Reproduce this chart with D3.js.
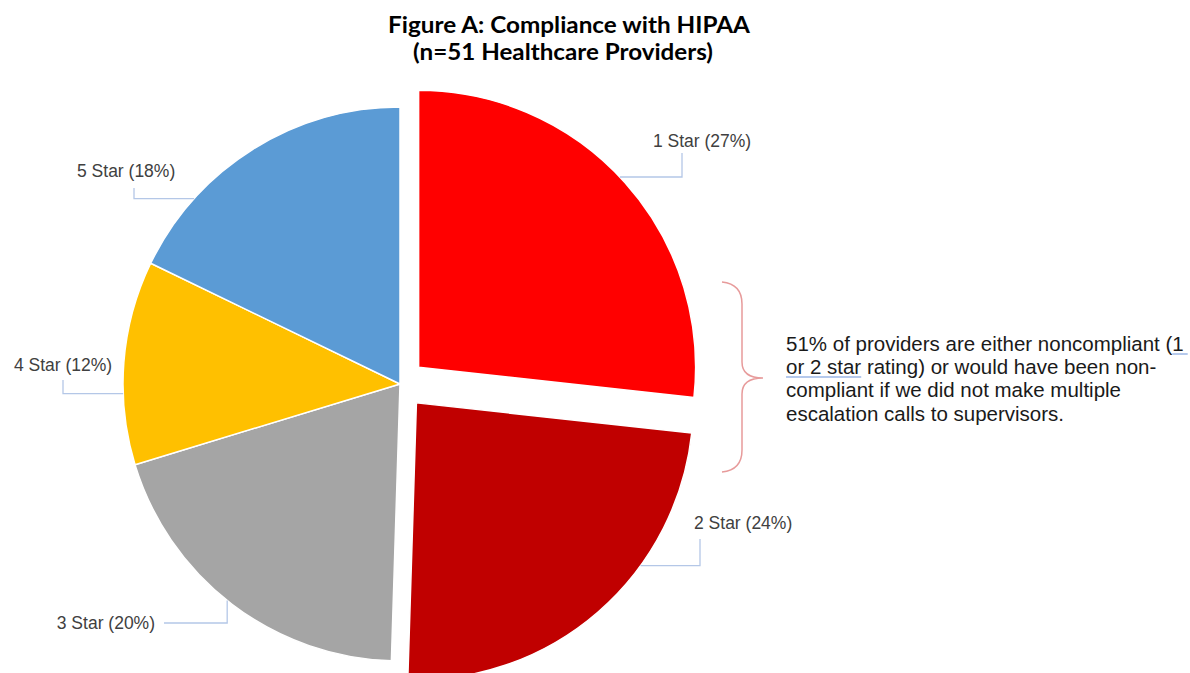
<!DOCTYPE html>
<html>
<head>
<meta charset="utf-8">
<script src="https://cdn.jsdelivr.net/npm/d3@7"></script>
<style>
  body { margin: 0; background: #fff; }
  svg { display: block; }
</style>
</head>
<body>
<div id="chart"></div>
<script>
// data (slices drawn from the rounded percentages)
const categories = ["1 Star", "2 Star", "3 Star", "4 Star", "5 Star"];
const percents = [27, 24, 20, 12, 18];
const colors = ["#ff0000", "#c00000", "#a5a5a5", "#ffc000", "#5b9bd5"];
const exploded = [true, true, false, false, false];
const titleLines = ["Figure A: Compliance with HIPAA", "(n=51 Healthcare Providers)"];
const noteLines = [
  "51% of providers are either noncompliant (1",
  "or 2 star rating) or would have been non-",
  "compliant if we did not make multiple",
  "escalation calls to supervisors."
];

const width = 1190, height = 673;
const cx = 400, cy = 384, radius = 277, explodeBy = 25;

// label placement (leader angle on the slice, elbow, text spot)
const labelLayout = [
  { angle: 46.6, mode: "hv", elbowX: 682, endY: 153, tx: 702, ty: 141, anchor: "middle" },
  { angle: 126, mode: "hv", elbowX: 700, endY: 539, tx: 694, ty: 523, anchor: "start" },
  { angle: 218.6, mode: "vh", endY: 623, endX: 164, tx: 155, ty: 623, anchor: "end" },
  { angle: 268, mode: "hv", elbowX: 63, endY: 380, tx: 63, ty: 365, anchor: "middle" },
  { angle: 312, mode: "hv", elbowX: 134, endY: 188, tx: 77, ty: 171, anchor: "start" }
];

const svg = d3.select("#chart").append("svg")
  .attr("width", width)
  .attr("height", height);

// title
svg.selectAll(".title")
  .data(titleLines)
  .enter().append("text")
  .attr("class", "title")
  .attr("x", (d, i) => i === 0 ? 569 : 563)
  .attr("y", (d, i) => i === 0 ? 33 : 60)
  .attr("text-anchor", "middle")
  .attr("font-family", "Lato, 'Open Sans', sans-serif")
  .attr("font-weight", "bold")
  .attr("font-size", "22.5px")
  .attr("fill", "#000")
  .attr("textLength", (d, i) => i === 0 ? 362 : 300)
  .attr("lengthAdjust", "spacingAndGlyphs")
  .text(d => d);

const pie = d3.pie().sort(null).value(d => d);
const arcs = pie(percents);
const arc = d3.arc().innerRadius(0).outerRadius(radius);

function shift(i) {
  if (!exploded[i]) return [0, 0];
  const a = (arcs[i].startAngle + arcs[i].endAngle) / 2;
  return [explodeBy * Math.sin(a), -explodeBy * Math.cos(a)];
}

const g = svg.append("g").attr("transform", `translate(${cx},${cy})`);

g.selectAll("path.slice")
  .data(arcs)
  .enter().append("path")
  .attr("class", "slice")
  .attr("transform", (d, i) => `translate(${shift(i)[0]},${shift(i)[1]})`)
  .attr("d", arc)
  .attr("fill", (d, i) => colors[i])
  .attr("stroke", "#fff")
  .attr("stroke-width", 1.5)
  .attr("stroke-linejoin", "round");

// leader lines + labels
labelLayout.forEach((L, i) => {
  const a = L.angle * Math.PI / 180;
  const s = shift(i);
  const ax = cx + s[0] + radius * Math.sin(a);
  const ay = cy + s[1] - radius * Math.cos(a);
  let pts;
  if (L.mode === "hv") {
    pts = [[ax, ay], [L.elbowX, ay], [L.elbowX, L.endY]];
  } else {
    pts = [[ax, ay], [ax, L.endY], [L.endX, L.endY]];
  }
  svg.append("path")
    .attr("d", d3.line()(pts))
    .attr("fill", "none")
    .attr("stroke", "#b4c7e7")
    .attr("stroke-width", 1.3);

  svg.append("text")
    .attr("x", L.tx)
    .attr("y", L.ty)
    .attr("dy", "0.35em")
    .attr("text-anchor", L.anchor)
    .attr("font-family", "'Liberation Sans', Arial, sans-serif")
    .attr("font-size", "17.5px")
    .attr("fill", "#404040")
    .text(`${categories[i]} (${percents[i]}%)`);
});

// curly brace beside the two exploded slices
svg.append("path")
  .attr("d", "M722,282 Q742,284 742,304 L742,362 Q742,378 763,378 Q742,378 742,394 L742,450 Q742,470 722,472")
  .attr("fill", "none")
  .attr("stroke", "#e79b9b")
  .attr("stroke-width", 1.5);

// note text
const noteX = 786;
const note = svg.selectAll(".note")
  .data(noteLines)
  .enter().append("text")
  .attr("class", "note")
  .attr("x", noteX)
  .attr("y", (d, i) => 351 + i * 23.2)
  .attr("font-family", "'Liberation Sans', Arial, sans-serif")
  .attr("font-size", "20.5px")
  .attr("fill", "#1a1a1a")
  .text(d => d);

// spell-check style underlines in the source
const n0 = note.nodes()[0], n1 = note.nodes()[1];
const u1s = noteX + n0.getSubStringLength(0, noteLines[0].length - 1);
const u1e = noteX + n0.getComputedTextLength() + 4;
const u2e = noteX + n1.getSubStringLength(0, 9);
svg.append("line")
  .attr("x1", u1s).attr("x2", u1e).attr("y1", 354).attr("y2", 354)
  .attr("stroke", "#9db7e6").attr("stroke-width", 1.5);
svg.append("line")
  .attr("x1", noteX).attr("x2", u2e).attr("y1", 377).attr("y2", 377)
  .attr("stroke", "#9db7e6").attr("stroke-width", 1.5);
</script>
</body>
</html>
